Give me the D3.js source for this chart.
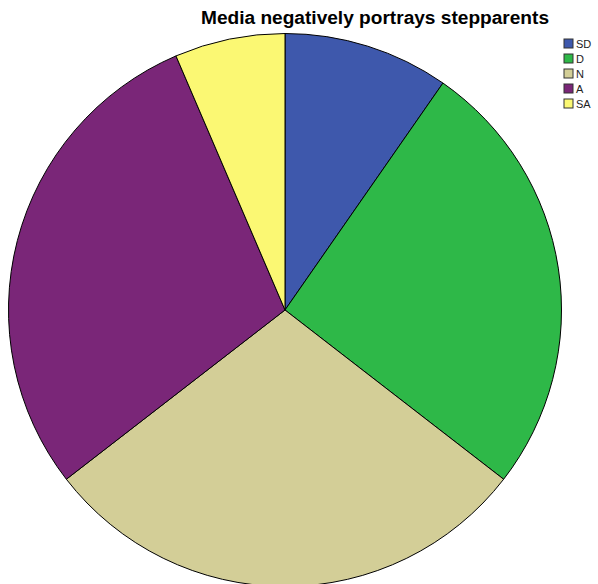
<!DOCTYPE html>
<html><head><meta charset="utf-8">
<script src="https://cdn.jsdelivr.net/npm/d3@7"></script>
<style>body{margin:0;background:#fff}svg{display:block}</style>
</head><body>
<svg id="c" width="598" height="584"></svg>
<script>
const categories = ["SD","D","N","A","SA"];
const counts = [3,8,9,9,2];
const colors = ["#3E58AC","#2EB848","#D3CE97","#7A2678","#FBF873"];
const title = "Media negatively portrays stepparents";

const svg = d3.select("#c");
const cx = 285, cy = 310, r = 276.5;
const pie = d3.pie().sort(null).value(d => d.v);
const data = categories.map((c,i)=>({c, v:counts[i], col:colors[i]}));
const arc = d3.arc().innerRadius(0).outerRadius(r);
svg.append("g").attr("transform",`translate(${cx},${cy})`)
  .selectAll("path").data(pie(data)).join("path")
  .attr("d", arc).attr("fill", d=>d.data.col)
  .attr("stroke","#000").attr("stroke-width",1).attr("stroke-linejoin","round");

svg.append("text").attr("x",375).attr("y",24).attr("text-anchor","middle")
  .attr("font-family","Liberation Sans, Arial, sans-serif").attr("font-weight","bold")
  .attr("font-size",17.5).attr("textLength",348).attr("lengthAdjust","spacingAndGlyphs").text(title);

const leg = svg.append("g");
const ly = d3.scaleBand().domain(categories).range([36,111]);
const items = leg.selectAll("g").data(data).join("g")
  .attr("transform", d=>`translate(564,${ly(d.c)+ly.bandwidth()/2})`);
items.append("rect").attr("x",0).attr("y",-4.5).attr("width",9).attr("height",9)
  .attr("fill",d=>d.col).attr("stroke","#333").attr("stroke-width",1);
items.append("text").attr("x",12).attr("y",4).attr("font-family","Liberation Sans, Arial, sans-serif")
  .attr("font-size",11).attr("fill","#222").text(d=>d.c);
</script>
</body></html>
